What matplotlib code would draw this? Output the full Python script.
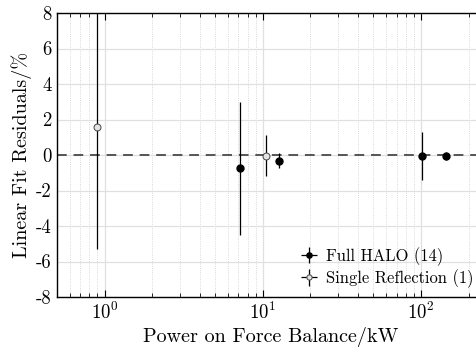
import numpy as np
import matplotlib
matplotlib.use('Agg')
import matplotlib.pyplot as plt
from matplotlib.ticker import FuncFormatter, LogLocator

plt.rcParams['font.family'] = 'serif'
plt.rcParams['font.serif'] = ['cmr10']
plt.rcParams['mathtext.fontset'] = 'cm'
plt.rcParams['axes.formatter.use_mathtext'] = True

# full HALO runs
halo_power = [7.15, 12.7, 101.0, 144.0]
halo_resid = [-0.75, -0.31, -0.05, -0.05]
halo_err = [3.75, 0.44, 1.36, 0.22]

# single reflection runs
single_power = [0.9, 10.4]
single_resid = [1.58, -0.05]
single_err_lo = [6.9, 1.15]
single_err_hi = [6.9, 1.15]

fig = plt.figure(figsize=(4.76, 3.49), dpi=100)
ax = fig.add_axes([57/476, 52/349, (484-57)/476, 284/349])

ax.axhline(0, color='#555555', ls=(0, (5, 3.5)), lw=1.4, zorder=2)

ax.errorbar(halo_power, halo_resid, yerr=halo_err, xerr=np.zeros(4),
            fmt='o', color='black', ms=5, elinewidth=0.9, capsize=0,
            label='Full HALO (14)', zorder=4)
ax.errorbar(single_power, single_resid, yerr=[single_err_lo, single_err_hi],
            xerr=np.zeros(2), fmt='o', color='black', mfc='#e4e4e4',
            mec='#444444', mew=0.7, ms=5, elinewidth=0.9, capsize=0,
            label='Single Reflection (1)', zorder=4)

ax.set_xscale('log')
ax.set_xlim(0.5, 250)
ax.set_ylim(-8, 8)
ax.set_yticks(np.arange(-8, 9, 2))
ax.yaxis.set_major_formatter(FuncFormatter(lambda v, p: '%d' % v))
ax.xaxis.set_minor_locator(LogLocator(base=10, subs=np.arange(2, 10)))

ax.grid(which='major', color='#e0e0e0', lw=0.9, ls='-')
ax.grid(which='minor', axis='x', color='#cccccc', lw=0.6, ls=':')
ax.set_axisbelow(True)

ax.tick_params(which='both', direction='in', top=True, right=False,
               labelsize=13.5)
ax.tick_params(which='major', length=5, width=0.8)
ax.tick_params(which='minor', length=3, width=0.6)
ax.tick_params(axis='y', length=0, pad=4)
for s in ax.spines.values():
    s.set_linewidth(1.0)

ax.set_xlabel('Power on Force Balance/kW', fontsize=14.5, labelpad=3)
ax.set_ylabel('Linear Fit Residuals/%', fontsize=14.5, labelpad=3)

ax.legend(loc='lower left', bbox_to_anchor=(301/476, 1 - 288/349),
          bbox_transform=fig.transFigure, frameon=False,
          fontsize=11.9, handlelength=0.95, handletextpad=0.55,
          borderpad=0, borderaxespad=0, labelspacing=0.22, markerscale=0.75)

fig.savefig('out.png', dpi=100)
